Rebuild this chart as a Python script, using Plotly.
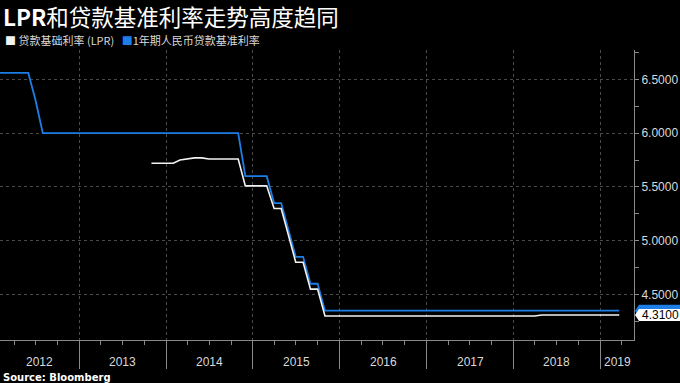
import plotly.graph_objects as go
import pandas as pd

# ---- data ----
rate_dates = ["2012-01-31", "2012-05-31", "2012-06-30", "2012-07-31", "2014-10-31",
              "2014-11-30", "2015-02-28", "2015-03-31", "2015-04-30", "2015-05-31",
              "2015-06-30", "2015-07-31", "2015-08-31", "2015-09-30", "2015-10-31",
              "2019-03-22"]
rate_values = [6.56, 6.56, 6.31, 6.00, 6.00, 5.60, 5.60, 5.35, 5.35, 5.10,
               4.85, 4.85, 4.60, 4.60, 4.35, 4.35]

lpr_dates = ["2013-10-31", "2013-11-30", "2013-12-31", "2014-01-31", "2014-02-28",
             "2014-03-31", "2014-04-30", "2014-05-31", "2014-06-30", "2014-10-31",
             "2014-11-30", "2015-02-28", "2015-03-31", "2015-04-30", "2015-05-31",
             "2015-06-30", "2015-07-31", "2015-08-31", "2015-09-30", "2015-10-31",
             "2018-03-31", "2018-04-30", "2019-03-22"]
lpr_values = [5.72, 5.72, 5.72, 5.72, 5.75, 5.76, 5.77, 5.77, 5.76, 5.76,
              5.51, 5.51, 5.30, 5.30, 5.05, 4.80, 4.80, 4.55, 4.55, 4.30,
              4.30, 4.31, 4.31]

year_labels = ["2012", "2013", "2014", "2015", "2016", "2017", "2018", "2019"]
y_ticks = [4.5, 5.0, 5.5, 6.0, 6.5]

title_text = "<b>LPR</b>和贷款基准利率走势高度趋同"
lpr_name = "贷款基础利率 (LPR)"
rate_name = "1年期人民币贷款基准利率"
source_text = "<b>Source: Bloomberg</b>"

# ---- style ----
BLUE = "#1d7ee6"
WHITE = "#f2f2f2"
GRID = "#4a4a4a"
AXIS = "#8a8a8a"
TXT = "#d9d9d9"
x_range = ["2012-02-02", "2019-05-23"]
y_range = [4.077, 6.773]
W, H = 680, 383
ML, MR, MT, MB = 0, 46, 50, 43
PW, PH = W - ML - MR, H - MT - MB

fig = go.Figure()
fig.add_trace(go.Scatter(x=rate_dates, y=rate_values, mode="lines", name=rate_name,
                         line=dict(color=BLUE, width=1.8), showlegend=False))
fig.add_trace(go.Scatter(x=lpr_dates, y=lpr_values, mode="lines", name=lpr_name,
                         line=dict(color=WHITE, width=1.6), showlegend=False))

year_bounds = [f"{y}-01-01" for y in range(2013, 2020)]

fig.update_xaxes(
    type="date", range=x_range, showline=True, linecolor=AXIS, linewidth=1,
    tickmode="array", tickvals=year_bounds, ticktext=[""] * len(year_bounds),
    ticks="outside", ticklen=28, tickcolor=AXIS, tickwidth=1,
    showgrid=True, gridcolor=GRID, griddash="dot", gridwidth=1,
    minor=dict(tickmode="linear", tick0="2012-01-01", dtick="M3", ticks="outside",
               ticklen=4, tickcolor=AXIS, showgrid=False),
    zeroline=False, fixedrange=True, automargin=False,
)
fig.update_yaxes(
    side="right", range=y_range, showline=True, linecolor=AXIS, linewidth=1,
    tickmode="array", tickvals=y_ticks, tickformat=".4f",
    ticks="outside", ticklen=4, tickcolor=AXIS,
    tickfont=dict(family="Liberation Sans", size=12, color=TXT),
    showgrid=True, gridcolor=GRID, griddash="dot", gridwidth=1,
    minor=dict(tickmode="linear", tick0=4.25, dtick=0.5, ticks="outside", ticklen=4,
               tickcolor=AXIS, showgrid=False),
    zeroline=False, automargin=False,
)

annotations = []
shapes = []

# year labels centered in visible part of each year
rs, re_ = pd.Timestamp(x_range[0]), pd.Timestamp(x_range[1])
for lab in year_labels:
    a = max(pd.Timestamp(f"{lab}-01-01"), rs)
    b = min(pd.Timestamp(f"{int(lab) + 1}-01-01"), re_)
    mid = a + (b - a) / 2
    annotations.append(dict(x=mid.strftime("%Y-%m-%d %H:%M"), xref="x", y=-(362 - 340) / PH, yref="paper",
                            text=lab, showarrow=False, xanchor="center", yanchor="middle",
                            font=dict(family="Liberation Sans", size=12, color=TXT)))

# title, legend, source
annotations.append(dict(x=0, xref="paper", xshift=1, y=1 + (MT - 16) / PH, yref="paper",
                        text=title_text, showarrow=False, xanchor="left", yanchor="middle",
                        font=dict(family="Noto Sans CJK SC", size=22.5, color="#ffffff")))
annotations.append(dict(x=0, xref="paper", xshift=3, y=1 + (MT - 40) / PH, yref="paper",
                        text=f'<span style="color:{WHITE}">■</span> {lpr_name}   '
                             f'<span style="color:{BLUE}">■</span>{rate_name}',
                        showarrow=False, xanchor="left", yanchor="middle",
                        font=dict(family="Noto Sans CJK SC", size=11, color=TXT)))
annotations.append(dict(x=0, xref="paper", xshift=1, y=-(377 - 340) / PH, yref="paper",
                        text=source_text, showarrow=False, xanchor="left", yanchor="middle",
                        font=dict(family="DejaVu Sans", size=10, color="#ffffff")))

# end-value labels on the right axis
def py(v):
    return (v - y_range[0]) / (y_range[1] - y_range[0])

lab_h = 6 / PH
for val, bg, fg in [(rate_values[-1], BLUE, "#ffffff"), (lpr_values[-1], "#ffffff", "#000000")]:
    yc = py(val)
    x0 = 1 + 1 / PW
    x1 = 1 + 5 / PW
    x2 = (W - ML) / PW
    shapes.append(dict(type="path", xref="paper", yref="paper",
                       path=f"M {x0} {yc} L {x1} {yc + lab_h} L {x2} {yc + lab_h} L {x2} {yc - lab_h} L {x1} {yc - lab_h} Z",
                       fillcolor=bg, line=dict(width=0), layer="above"))
    if fg == "#000000":
        annotations.append(dict(x=1, xref="paper", xshift=6, y=val, yref="y", text=f"{val:.4f}",
                                showarrow=False, xanchor="left", yanchor="middle",
                                font=dict(family="Liberation Sans", size=12, color=fg)))

fig.update_layout(
    width=W, height=H, margin=dict(l=ML, r=MR, t=MT, b=MB, autoexpand=False),
    paper_bgcolor="#000000", plot_bgcolor="#000000",
    annotations=annotations, shapes=shapes, showlegend=False,
    font=dict(family="Liberation Sans", color=TXT),
)

fig.write_html("out.html", config={"displayModeBar": False},
               post_script="document.body.style.margin='0';document.body.style.padding='0';document.body.style.background='#000';")
